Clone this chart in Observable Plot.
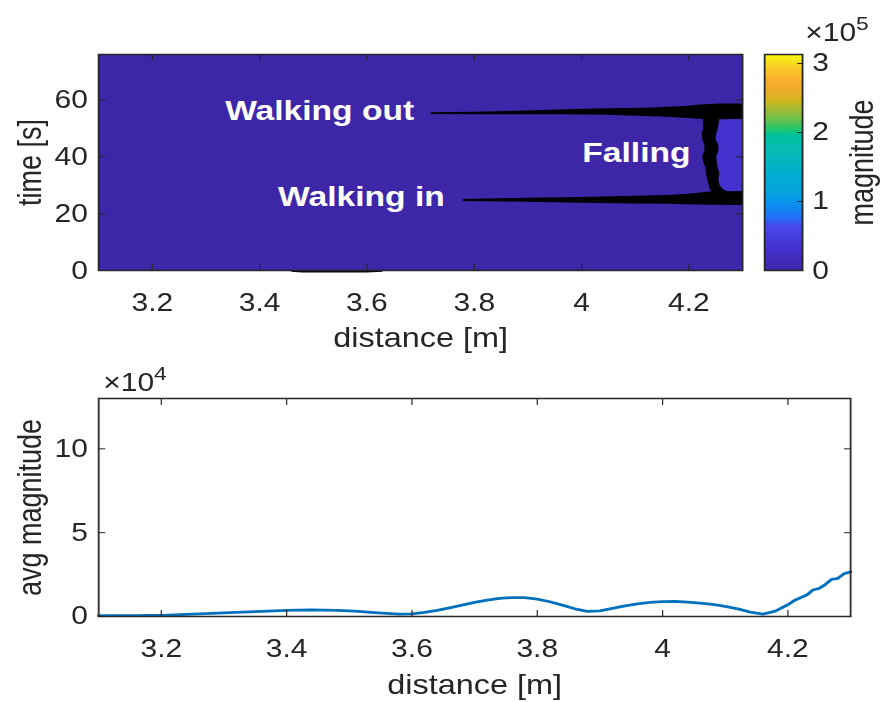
<!DOCTYPE html>
<html>
<head>
<meta charset="utf-8">
<script src="https://cdn.jsdelivr.net/npm/d3@7"></script>
<script src="https://cdn.jsdelivr.net/npm/@observablehq/plot@0.6"></script>
<style>
  html, body { margin: 0; padding: 0; background: #fff; }
  #fig {
    position: relative; width: 738.33px; height: 702px;
    transform: scaleX(1.2); transform-origin: 0 0;
    font-family: 'Liberation Sans', Arial, Helvetica, sans-serif; color: #262626;
  }
  #fig > * { position: absolute; }
  .mult { font-size: 25px; line-height: 1; white-space: nowrap; }
  .mult sup { font-size: 19px; position: relative; top: -11px; vertical-align: baseline; }
</style>
</head>
<body>
<div id="fig"></div>
<script>
// ---- range-time map (top) ----
const distanceDomain = [3.1, 4.3];
const timeDomain = [0, 76];
const magnitudeMax = 3.13e5;
const distanceTicks = [3.2, 3.4, 3.6, 3.8, 4.0, 4.2];
const timeTicks = [0, 20, 40, 60];
const colorbarTicks = [0, 1, 2, 3];            // ×10^5

// map cells: quiet background and the slightly brighter patch beside the fall
const cellD1 = [3.1, 4.25];
const cellD2 = [4.3, 4.3];
const cellT1 = [0, 27];
const cellT2 = [76, 53];
const cellMagnitude = [0, 0.3e5];

// blanked traces: walking out (upper band)
const outD  = [3.72, 3.80, 3.90, 3.97, 4.05, 4.12, 4.16, 4.20, 4.22, 4.26, 4.30];
const outLo = [54.9, 54.8, 54.8, 54.8, 54.6, 54.2, 53.9, 53.5, 53.2, 53.0, 53.2];
const outHi = [55.5, 55.7, 56.1, 56.6, 56.9, 57.1, 57.4, 57.8, 58.2, 58.6, 58.6];

// walking in (lower band)
const inD  = [3.78, 3.90, 4.00, 4.10, 4.16, 4.20, 4.24, 4.30];
const inLo = [24.3, 24.0, 23.7, 23.4, 23.3, 23.1, 23.0, 22.9];
const inHi = [25.0, 25.4, 25.7, 26.1, 26.4, 26.8, 27.6, 27.8];

// falling (vertical band)
const fallT  = [27.0, 28.5, 30.0, 32.0, 34.0, 36.0, 38.0, 40.0, 42.0, 44.0, 46.0, 48.0, 50.0, 52.0, 54.0];
const fallLo = [4.246, 4.240, 4.238, 4.235, 4.233, 4.232, 4.228, 4.226, 4.230, 4.230, 4.226, 4.225, 4.228, 4.227, 4.227];
const fallHi = [4.280, 4.264, 4.258, 4.256, 4.258, 4.255, 4.253, 4.252, 4.256, 4.256, 4.251, 4.252, 4.255, 4.257, 4.257];

// small blank strip along the time origin
const originD  = [3.46, 3.48, 3.60, 3.63];
const originLo = [-0.6, -0.9, -0.9, -0.6];
const originHi = [0, 0, 0, 0];

const noteText = ["Walking out", "Walking in", "Falling"];
const noteD = [3.688, 3.745, 4.203];
const noteT = [56.2, 26.0, 41.3];

// ---- average magnitude profile (bottom) ----
const avgTicks = [0, 5, 10];                    // ×10^4
const profileD = [3.10,3.12,3.14,3.16,3.18,3.20,3.22,3.24,3.26,3.28,
                  3.30,3.32,3.34,3.36,3.38,3.40,3.42,3.44,3.46,3.48,
                  3.50,3.52,3.54,3.56,3.58,3.60,3.62,3.64,3.66,3.68,
                  3.70,3.72,3.74,3.76,3.78,3.80,3.82,3.84,3.86,3.88,
                  3.90,3.92,3.94,3.96,3.98,4.00,4.02,4.04,4.06,4.08,
                  4.10,4.12,4.14,4.16,4.18,4.20,
                  4.21,4.22,4.23,4.24,4.25,4.26,4.27,4.28,4.29,4.30];
const profileAvg = [0.05,0.05,0.05,0.05,0.06,0.07,0.09,0.12,0.15,0.18,
                    0.21,0.24,0.27,0.31,0.34,0.37,0.38,0.39,0.38,0.36,
                    0.33,0.29,0.23,0.18,0.14,0.15,0.24,0.37,0.52,0.68,
                    0.84,0.98,1.08,1.13,1.12,1.04,0.88,0.68,0.46,0.31,
                    0.34,0.48,0.63,0.75,0.84,0.89,0.90,0.86,0.80,0.72,
                    0.60,0.45,0.26,0.14,0.32,0.70,
                    0.95,1.12,1.28,1.58,1.68,1.92,2.22,2.28,2.56,2.66];

// parula-like colormap
const parulaPos = [0, 0.10, 0.20, 0.24, 0.30, 0.35, 0.45, 0.55, 0.62, 0.645, 0.70, 0.78, 0.86, 0.93, 1];
const parulaCol = ["#3e26a8", "#4532d0", "#4848ec", "#2070f8", "#0a8ef0", "#06a0e0", "#00b0cc",
                   "#06bcb4", "#00c0a0", "#18c870", "#70c048", "#d0b820", "#f8a830", "#f8c828", "#f9fb0e"];
const parulaScale = d3.scaleLinear().domain(parulaPos).range(parulaCol).clamp(true);
const parula = t => parulaScale(t);

const ink = "#262626";
const font = "'Liberation Sans', Arial, Helvetica, sans-serif";
const baseStyle = {fontFamily: font, fontSize: "25px", color: ink, background: "transparent", overflow: "visible"};
const fmt = d3.format("~g");
const fig = document.getElementById("fig");

function place(node, left, top) {
  node.style.left = left + "px";
  node.style.top = top + "px";
  fig.appendChild(node);
}

// top: range-time map
const mapPlot = Plot.plot({
  width: 640, height: 360,
  marginLeft: 81.7, marginRight: 21.7, marginTop: 54, marginBottom: 90,
  style: baseStyle,
  x: {domain: distanceDomain},
  y: {domain: timeDomain},
  color: {type: "linear", domain: [0, magnitudeMax], interpolate: parula},
  marks: [
    Plot.rect(cellMagnitude, {x1: cellD1, x2: cellD2, y1: cellT1, y2: cellT2, fill: cellMagnitude}),
    Plot.areaY(outD, {x: outD, y1: outLo, y2: outHi, fill: "black"}),
    Plot.areaY(inD, {x: inD, y1: inLo, y2: inHi, fill: "black"}),
    Plot.areaX(fallT, {y: fallT, x1: fallLo, x2: fallHi, fill: "black"}),
    Plot.areaY(originD, {x: originD, y1: originLo, y2: originHi, fill: "black"}),
    Plot.text(noteText, {x: noteD, y: noteT, text: d => d, textAnchor: "end", lineAnchor: "middle",
      fill: "white", fontWeight: "bold", fontSize: 28}),
    Plot.axisX({anchor: "bottom", ticks: distanceTicks, tickSize: -6, fill: "none", stroke: ink}),
    Plot.axisX({anchor: "top", ticks: distanceTicks, tickSize: -6, fill: "none", stroke: ink}),
    Plot.axisY({anchor: "left", ticks: timeTicks, tickSize: -6, fill: "none", stroke: ink}),
    Plot.axisY({anchor: "right", ticks: timeTicks, tickSize: -6, fill: "none", stroke: ink}),
    Plot.axisX({anchor: "bottom", ticks: distanceTicks, tickSize: 0, tickPadding: 23, tickFormat: fmt, label: null, fill: ink}),
    Plot.axisY({anchor: "left", ticks: timeTicks, tickSize: 0, tickPadding: 9, tickFormat: fmt, label: null, fill: ink}),
    Plot.text(["distance [m]"], {frameAnchor: "bottom", dy: 57, lineAnchor: "top", textAnchor: "middle", text: d => d, fontSize: 27, fill: ink}),
    Plot.text(["time [s]"], {frameAnchor: "left", dx: -57, rotate: -90, lineAnchor: "middle", textAnchor: "middle", text: d => d, fontSize: 27, fill: ink}),
    Plot.frame({stroke: ink, strokeWidth: 1.5})
  ]
});
place(mapPlot, 0, 0);

// colorbar
const rampSteps = d3.range(0, 3.13, 0.01);
const barPlot = Plot.plot({
  width: 120, height: 360,
  marginLeft: 16.7, marginRight: 71.7, marginTop: 54, marginBottom: 90,
  style: baseStyle,
  x: {domain: [0, 1], axis: null},
  y: {domain: [0, magnitudeMax / 1e5]},
  color: {type: "linear", domain: [0, magnitudeMax], interpolate: parula},
  marks: [
    Plot.rect(rampSteps, {x1: 0, x2: 1, y1: d => d, y2: d => Math.min(d + 0.015, magnitudeMax / 1e5),
      fill: d => d * 1e5, shapeRendering: "crispEdges"}),
    Plot.axisY({anchor: "right", ticks: colorbarTicks, tickSize: -5, fill: "none", stroke: ink}),
    Plot.axisY({anchor: "right", ticks: colorbarTicks, tickSize: 0, tickPadding: 8, tickFormat: fmt, label: null, fill: ink}),
    Plot.text(["magnitude"], {frameAnchor: "right", dx: 50, rotate: -90, lineAnchor: "middle", textAnchor: "middle", text: d => d, fontSize: 27, fill: ink}),
    Plot.frame({stroke: ink, strokeWidth: 1.5})
  ]
});
place(barPlot, 620, 0);

const mult5 = document.createElement("div");
mult5.className = "mult";
mult5.innerHTML = "×10<sup>5</sup>";
place(mult5, 671, 19.5);

// bottom: average magnitude vs distance
const avgPlot = Plot.plot({
  width: 738.33, height: 342,
  marginLeft: 81.7, marginRight: 30, marginTop: 38, marginBottom: 86,
  style: baseStyle,
  x: {domain: distanceDomain},
  y: {domain: [0, 13]},
  marks: [
    Plot.line(profileD, {x: profileD, y: profileAvg, stroke: "#0072bd", strokeWidth: 2.8}),
    Plot.axisX({anchor: "bottom", ticks: distanceTicks, tickSize: -6, fill: "none", stroke: ink}),
    Plot.axisX({anchor: "top", ticks: distanceTicks, tickSize: -6, fill: "none", stroke: ink}),
    Plot.axisY({anchor: "left", ticks: avgTicks, tickSize: -6, fill: "none", stroke: ink}),
    Plot.axisY({anchor: "right", ticks: avgTicks, tickSize: -6, fill: "none", stroke: ink}),
    Plot.axisX({anchor: "bottom", ticks: distanceTicks, tickSize: 0, tickPadding: 23, tickFormat: fmt, label: null, fill: ink}),
    Plot.axisY({anchor: "left", ticks: avgTicks, tickSize: 0, tickPadding: 9, tickFormat: fmt, label: null, fill: ink}),
    Plot.text(["distance [m]"], {frameAnchor: "bottom", dy: 58, lineAnchor: "top", textAnchor: "middle", text: d => d, fontSize: 27, fill: ink}),
    Plot.text(["avg magnitude"], {frameAnchor: "left", dx: -57, rotate: -90, lineAnchor: "middle", textAnchor: "middle", text: d => d, fontSize: 27, fill: ink}),
    Plot.frame({stroke: ink, strokeWidth: 1.5})
  ]
});
place(avgPlot, 0, 360);

const mult4 = document.createElement("div");
mult4.className = "mult";
mult4.innerHTML = "×10<sup>4</sup>";
place(mult4, 86, 369.5);
</script>
</body>
</html>
